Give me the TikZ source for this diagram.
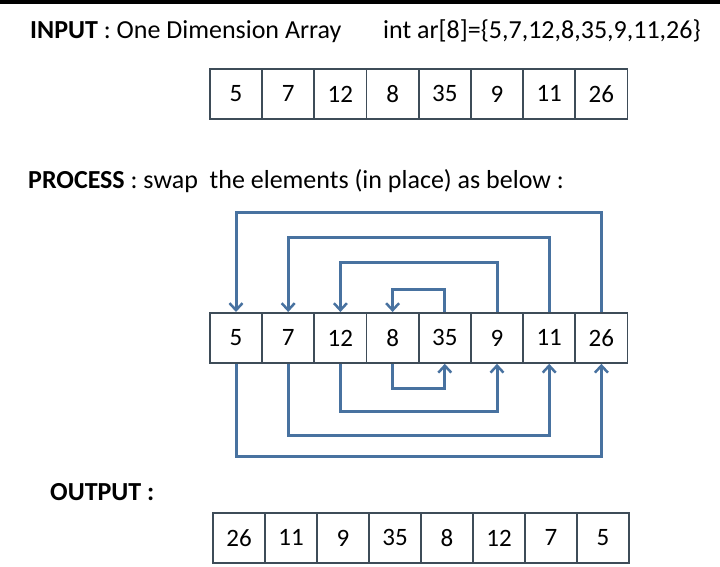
\documentclass[tikz,border=0pt]{standalone}
\usepackage{fontspec}
\setmainfont{Carlito}
\usetikzlibrary{arrows.meta}
\definecolor{arr}{RGB}{72,114,160}
\definecolor{bx}{RGB}{62,76,88}
\begin{document}
\begin{tikzpicture}[x=1pt,y=-1pt,
  cell/.style={draw=bx,line width=1.8pt,minimum width=52.2pt,minimum height=50pt,inner sep=0pt,font=\fontsize{25}{25}\selectfont,anchor=north west},
  lbl/.style={anchor=base west,inner sep=0pt,font=\fontsize{26}{26}\selectfont},
  sw/.style={draw=arr,line width=3pt,-{Straight Barb[length=7pt,width=13pt,line width=2.5pt]}}]
\useasboundingbox (0,0) rectangle (720,566);
\fill[black] (0,0) rectangle (720,4);
\node[lbl] (t1) at (30,38) {\textbf{INPUT} : One Dimension Array};
\node[lbl] (t2) at (383,38) {int ar[8]=\{5,7,12,8,35,9,11,26\}};
\node[lbl] (t3) at (28,188) {\textbf{PROCESS} : swap\ \ the elements (in place) as below :};
\node[lbl] (t4) at (50,500) {\textbf{OUTPUT :}};
\foreach \v [count=\i] in {5,7,12,8,35,9,11,26}{
  \node[cell] (a\i) at ({209+52.2*(\i-1)},68) {\v};
  \node[cell] (b\i) at ({209+52.2*(\i-1)},312) {\v};
}
\foreach \v [count=\i] in {26,11,9,35,8,12,7,5}{
  \node[cell] (c\i) at ({212+52*(\i-1)},512) {\v};
}
\coordinate (u1) at (0,212); \coordinate (u2) at (0,237);
\coordinate (u3) at (0,262); \coordinate (u4) at (0,289);
\coordinate (d1) at (0,456); \coordinate (d2) at (0,435);
\coordinate (d3) at (0,411); \coordinate (d4) at (0,388);
% top swaps
\draw[sw] (b8.north) -- (b8.north |- u1) -| (b1.north);
\draw[sw] (b7.north) -- (b7.north |- u2) -| (b2.north);
\draw[sw] (b6.north) -- (b6.north |- u3) -| (b3.north);
\draw[sw] (b5.north) -- (b5.north |- u4) -| (b4.north);
% bottom swaps
\draw[sw] (b1.south) -- (b1.south |- d1) -| (b8.south);
\draw[sw] (b2.south) -- (b2.south |- d2) -| (b7.south);
\draw[sw] (b3.south) -- (b3.south |- d3) -| (b6.south);
\draw[sw] (b4.south) -- (b4.south |- d4) -| (b5.south);
\end{tikzpicture}
\end{document}
